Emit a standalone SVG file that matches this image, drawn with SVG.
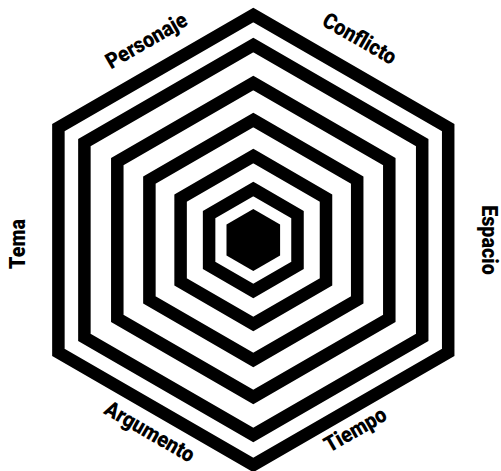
<svg xmlns="http://www.w3.org/2000/svg" width="501" height="471" viewBox="0 0 501 471">
<style>
.ring{fill:none;stroke:#000;stroke-width:12.5;stroke-linejoin:miter}
.core{fill:#000;stroke:none}
.lbl{font-family:Roboto,"Liberation Sans",sans-serif;font-weight:900;font-size:22px;fill:#000;text-anchor:middle}
</style>
<rect width="501" height="471" fill="#fff"/>
<g id="rings">
<polygon id="ring1" class="ring" points="253.3,15 448.2,127.5 448.2,352.5 253.3,465 58.4,352.5 58.4,127.5"/>
<polygon id="ring2" class="ring" points="253.3,45 422.2,142.5 422.2,337.5 253.3,435 84.4,337.5 84.4,142.5"/>
<polygon id="ring3" class="ring" points="253.3,83 389.3,161.5 389.3,318.5 253.3,397 117.3,318.5 117.3,161.5"/>
<polygon id="ring4" class="ring" points="253.3,120 357.2,180 357.2,300 253.3,360 149.4,300 149.4,180"/>
<polygon id="ring5" class="ring" points="253.3,156 326,198 326,282 253.3,324 180.6,282 180.6,198"/>
<polygon id="ring6" class="ring" points="253.3,189 297.5,214.5 297.5,265.5 253.3,291 209.1,265.5 209.1,214.5"/>
<polygon id="core" class="core" points="253.3,209 280.1,224.5 280.1,255.5 253.3,271 226.5,255.5 226.5,224.5"/>
</g>
<g id="labels">
<text id="personaje" class="lbl" transform="translate(150,47) rotate(-30) scale(0.9,1)">Personaje</text>
<text id="conflicto" class="lbl" transform="translate(356,45) rotate(30) scale(0.9,1)">Conflicto</text>
<text id="espacio" class="lbl" transform="translate(482,240) rotate(90) scale(0.9,1)">Espacio</text>
<text id="tiempo" class="lbl" transform="translate(359,436) rotate(-30) scale(0.9,1)">Tiempo</text>
<text id="argumento" class="lbl" transform="translate(146,438) rotate(30) scale(0.9,1)">Argumento</text>
<text id="tema" class="lbl" transform="translate(25,244) rotate(-90) scale(0.9,1)">Tema</text>
</g>
</svg>
